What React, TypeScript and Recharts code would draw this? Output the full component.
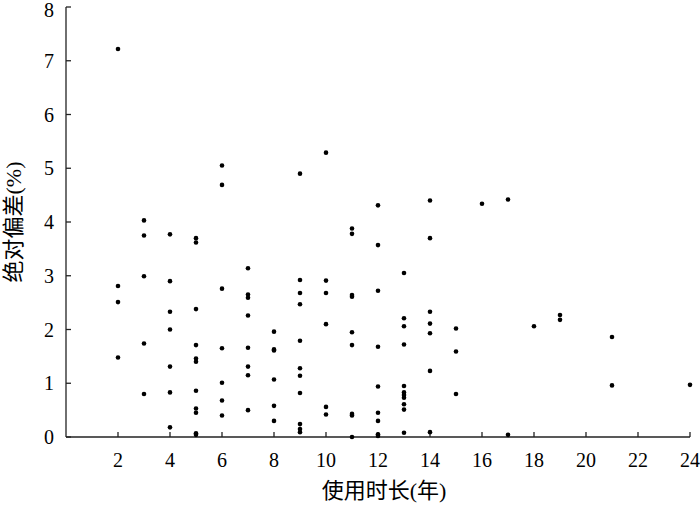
import { ScatterChart, Scatter, XAxis, YAxis } from "recharts";

// service years, and the absolute deviations measured at each of them
const years = [2, 3, 4, 5, 6, 7, 8, 9, 10, 11, 12, 13, 14, 15, 16, 17, 18, 19, 21, 24];
const deviations: number[][] = [
    [7.22, 2.81, 2.51, 1.48],
    [4.03, 3.75, 2.99, 1.74, 0.8],
    [3.77, 2.9, 2.33, 2.0, 1.31, 0.83, 0.18],
    [3.7, 3.62, 2.38, 1.71, 1.46, 1.4, 0.86, 0.53, 0.45, 0.07, 0.04],
    [5.05, 4.69, 2.76, 1.65, 1.01, 0.68, 0.4],
    [3.14, 2.65, 2.59, 2.26, 1.66, 1.31, 1.15, 0.5],
    [1.96, 1.63, 1.61, 1.07, 0.58, 0.3],
    [4.9, 2.92, 2.68, 2.47, 1.79, 1.28, 1.14, 0.82, 0.24, 0.15, 0.09],
    [5.29, 2.91, 2.68, 2.1, 0.56, 0.42],
    [3.88, 3.78, 2.64, 2.61, 1.95, 1.71, 0.43, 0.4, 0.0],
    [4.31, 3.57, 2.72, 1.68, 0.94, 0.45, 0.3, 0.05, 0.02],
    [3.05, 2.21, 2.06, 1.72, 0.95, 0.83, 0.78, 0.73, 0.61, 0.51, 0.08],
    [4.4, 3.7, 2.33, 2.11, 1.93, 1.23, 0.09],
    [2.02, 1.59, 0.8],
    [4.34],
    [4.42, 0.04],
    [2.06],
    [2.27, 2.18],
    [1.86, 0.96],
    [0.97],
];

const xTicks = [2, 4, 6, 8, 10, 12, 14, 16, 18, 20, 22, 24];
const yTicks = [0, 1, 2, 3, 4, 5, 6, 7, 8];

const points = years.flatMap((yr, i) => deviations[i].map((d) => ({ year: yr, dev: d })));

const FONT = "'Liberation Serif', 'Noto Sans CJK SC', serif";
const AXIS = "#222";

const Dot = (props: any) => <circle cx={props.cx} cy={props.cy} r={2.3} fill="#000" />;

const XTick = ({ x, y, payload }: any) => (
    <text x={x} y={y} textAnchor="middle" dominantBaseline="central" fontSize={20} fontFamily={FONT} fill="#000">
        {payload.value}
    </text>
);

// top label sits against the page edge, keep it just inside
const YTick = ({ x, y, payload }: any) => (
    <text x={x} y={Math.max(y, 10)} textAnchor="end" dominantBaseline="central" fontSize={20} fontFamily={FONT} fill="#000">
        {payload.value}
    </text>
);

export default function App() {
    return (
        <div style={{ position: "absolute", left: 0, top: 0, width: 700, height: 505, background: "#fff" }}>
            <ScatterChart width={700} height={505} margin={{ top: 7, right: 10, bottom: 0, left: 0 }}>
                <XAxis
                    type="number"
                    dataKey="year"
                    domain={[0, 24]}
                    ticks={xTicks}
                    interval={0}
                    height={68}
                    tickSize={-5}
                    tickMargin={28}
                    axisLine={{ stroke: AXIS, strokeWidth: 1.3 }}
                    tickLine={{ stroke: AXIS, strokeWidth: 1.3 }}
                    tick={<XTick />}
                    label={() => (
                        <text x={384} y={490} textAnchor="middle" dominantBaseline="central" fontSize={22} fontFamily={FONT} fill="#000">
                            使用时长(年)
                        </text>
                    )}
                />
                <YAxis
                    type="number"
                    dataKey="dev"
                    domain={[0, 8]}
                    ticks={yTicks}
                    interval={0}
                    width={66}
                    tickSize={-5}
                    tickMargin={17}
                    axisLine={{ stroke: AXIS, strokeWidth: 1.3 }}
                    tickLine={{ stroke: AXIS, strokeWidth: 1.3 }}
                    tick={<YTick />}
                    label={() => (
                        <text
                            x={13}
                            y={222}
                            transform="rotate(-90 13 222)"
                            textAnchor="middle"
                            dominantBaseline="central"
                            fontSize={22}
                            fontFamily={FONT}
                            fill="#000"
                        >
                            绝对偏差(%)
                        </text>
                    )}
                />
                <Scatter data={points} shape={Dot} isAnimationActive={false} />
            </ScatterChart>
        </div>
    );
}
